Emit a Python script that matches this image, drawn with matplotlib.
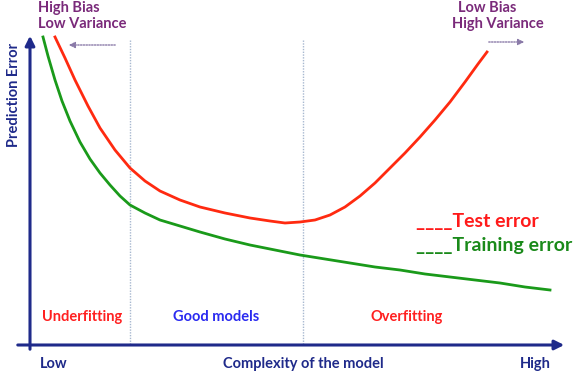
import matplotlib.pyplot as plt
from matplotlib.patches import FancyArrowPatch

# curves (pixel-like units, y grows downward)
test_x = [55, 65, 75, 88, 100, 115, 130, 145, 160, 180, 200, 225, 250, 270, 285, 300, 315, 330, 345, 360, 375, 390, 405, 420, 435, 450, 465, 478, 487]
test_y = [37, 58, 80, 106, 128, 150, 168, 181, 191, 200, 207, 213, 218, 221, 223, 222, 220, 215, 207, 196, 183, 168, 153, 137, 120, 102, 82, 64, 52]
train_x = [43, 48, 55, 62, 70, 80, 90, 100, 110, 120, 130, 145, 160, 180, 200, 225, 250, 275, 300, 325, 350, 375, 400, 425, 450, 475, 500, 525, 550]
train_y = [37, 56, 80, 101, 121, 142, 159, 173, 185, 196, 205, 213, 220, 226, 232, 239, 245, 250, 255, 259, 263, 267, 270, 274, 277, 280, 283, 287, 290]
zone_edges = [130, 303]
zone_labels = ["Underfitting", "Good models", "Overfitting"]
zone_label_x = [82, 216, 407]
zone_colors = ["#ff2020", "#2a2af0", "#ff2020"]

plt.rcParams['font.family'] = ['Lato', 'DejaVu Sans']
fig = plt.figure(figsize=(5.78, 3.90), dpi=100)
ax = fig.add_axes([0, 0, 1, 1])
ax.set_xlim(0, 578)
ax.set_ylim(390, 0)
ax.axis('off')

navy = "#1f2a8a"
purple = "#7a2a7a"

# axes arrows
ax.annotate("", xy=(567, 345), xytext=(15, 345),
            arrowprops=dict(arrowstyle="-|>", color=navy, lw=2.2, mutation_scale=14))
ax.annotate("", xy=(30, 33), xytext=(30, 352),
            arrowprops=dict(arrowstyle="-|>", color=navy, lw=2.2, mutation_scale=14))

# zone separators
for xe in zone_edges:
    ax.plot([xe, xe], [40, 345], color="#a8b8d0", lw=1, ls=(0, (1, 1)))

ax.plot(test_x, test_y, color="#ff2a10", lw=2)
ax.plot(train_x, train_y, color="#1a9a1a", lw=2)

# dotted arrows at top
ax.add_patch(FancyArrowPatch((118, 45), (66, 45), arrowstyle="-|>", mutation_scale=9,
                             color="#8a7aa8", lw=1, ls=(0, (1, 1))))
ax.add_patch(FancyArrowPatch((486, 42), (527, 42), arrowstyle="-|>", mutation_scale=9,
                             color="#8a7aa8", lw=1, ls=(0, (1, 1))))

tk = dict(fontweight="bold", fontsize=10.5)
ax.text(38, 8, "High Bias", color=purple, va="center", **tk)
ax.text(38, 24, "Low Variance", color=purple, va="center", **tk)
ax.text(458, 8, "Low Bias", color=purple, va="center", **tk)
ax.text(452, 24, "High Variance", color=purple, va="center", **tk)

ax.text(14, 95, "Prediction Error", color=navy, rotation=90, ha="center", va="center", **tk)

for lab, lx, c in zip(zone_labels, zone_label_x, zone_colors):
    ax.text(lx, 317, lab, color=c, ha="center", va="center", **tk)

ax.text(40, 364, "Low", color=navy, ha="left", va="center", **tk)
ax.text(303, 364, "Complexity of the model", color=navy, ha="center", va="center", **tk)
ax.text(535, 364, "High", color=navy, ha="center", va="center", **tk)

ax.text(416, 222, "____Test error", color="#ff1a1a", ha="left", va="center",
        fontweight="bold", fontsize=14)
ax.text(416, 245, "____Training error", color="#1a8a1a", ha="left", va="center",
        fontweight="bold", fontsize=14)

fig.savefig("out.png", dpi=100)
